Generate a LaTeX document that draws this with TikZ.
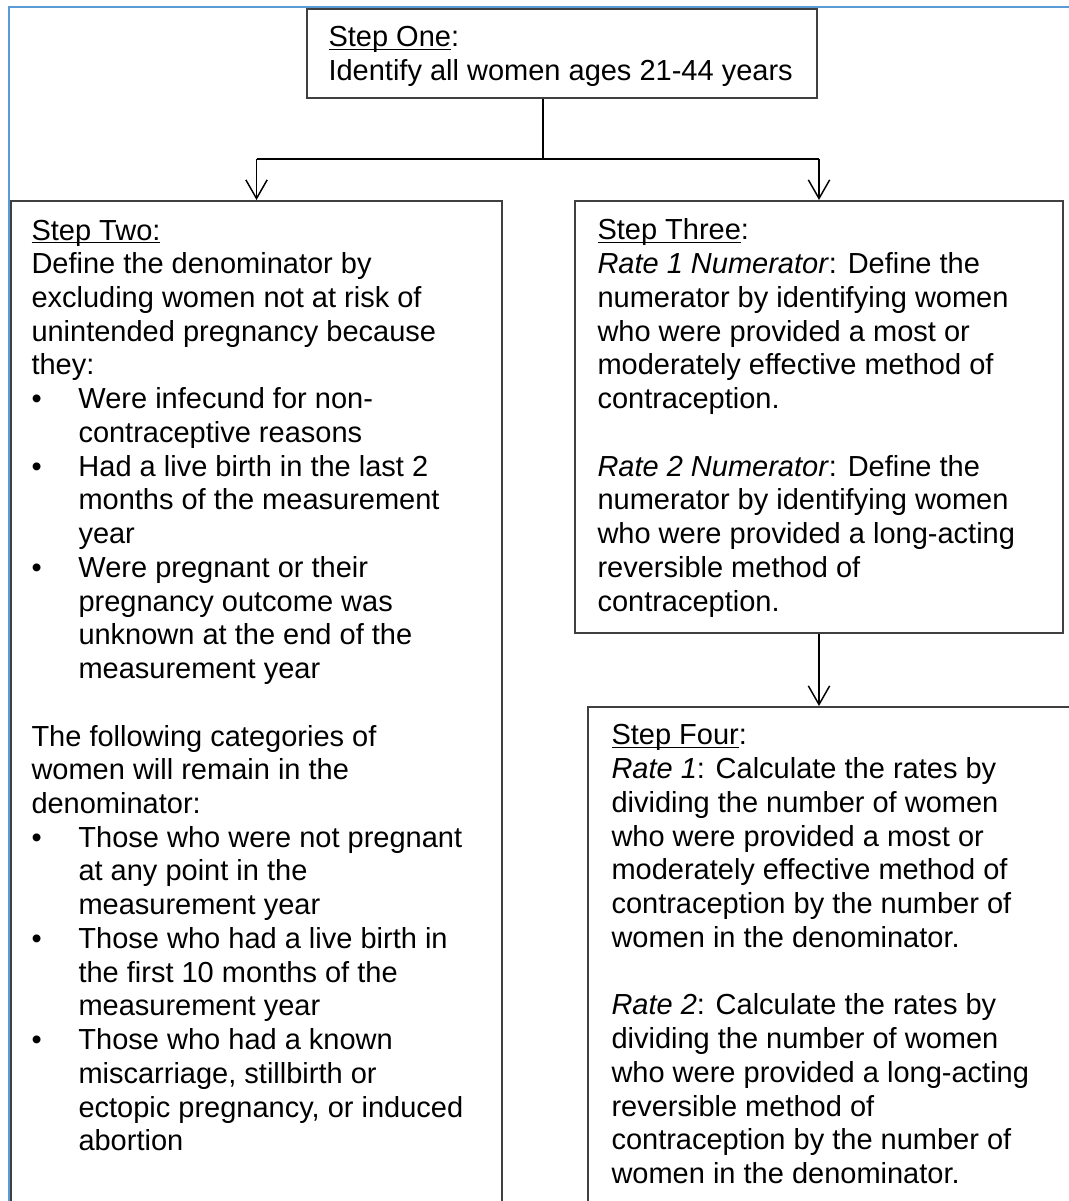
\documentclass[tikz,border=0pt]{standalone}
\usepackage{fontspec}
\setmainfont{Liberation Sans}
\usetikzlibrary{arrows.meta,fit}
\tikzset{every picture/.style={line width=0.75pt}}
\tikzset{
stepbox/.style={draw={rgb, 255:red, 64; green, 64; blue, 64}, line width=1.5pt, inner sep=0pt},
steptext/.style={anchor=base west, inner sep=0pt, align=left, font=\fontsize{21.75}{25.3}\selectfont},
flow/.style={line width=1.1pt},
flowarrow/.style={flow, -{Straight Barb[length=14pt,width=16pt]}}
}
\newcommand{\bul}{\makebox[35.25pt][l]{\textbullet}}
\newcommand{\ind}{\hspace*{35.25pt}}
\newsavebox{\stepulbox}
\newcommand{\stepul}[1]{\sbox{\stepulbox}{#1}\rlap{\rule[-2.4pt]{\wd\stepulbox}{1.1pt}}\usebox{\stepulbox}}

\begin{document}
\begin{tikzpicture}[x=0.75pt,y=0.75pt,yscale=-1,xscale=1]
\useasboundingbox (0,0) rectangle (1069,1201);
\clip (0,0) rectangle (1069,1201);

%Straight Lines: frame
\draw [color={rgb, 255:red, 91; green, 155; blue, 213 }, line width=1.2pt] (9,1230) -- (9,7) -- (1090,7) ;

%Shape: Rectangle
\node [stepbox, fit={(307,9) (817,98)}] (s1) {};
%Shape: Rectangle
\node [stepbox, fit={(11,201) (502,1240)}] (s2) {};
%Shape: Rectangle
\node [stepbox, fit={(575,201) (1063,633)}] (s3) {};
%Shape: Rectangle
\node [stepbox, fit={(588,707) (1090,1240)}] (s4) {};

% Text Node (anchored at the baseline of its last line)
\node [steptext] (s1t) at (328,80.7) {\stepul{Step One}:\\
Identify all women ages 21-44 years};
% Text Node
\node [steptext] (s2t) at (31,1150.8) {\stepul{Step Two:}\\
Define the denominator by\\
excluding women not at risk of\\
unintended pregnancy because\\
they:\\
\bul Were infecund for non-\\
\ind contraceptive reasons\\
\bul Had a live birth in the last 2\\
\ind months of the measurement\\
\ind year\\
\bul Were pregnant or their\\
\ind pregnancy outcome was\\
\ind unknown at the end of the\\
\ind measurement year\\[25.3pt]
The following categories of\\
women will remain in the\\
denominator:\\
\bul Those who were not pregnant\\
\ind at any point in the\\
\ind measurement year\\
\bul Those who had a live birth in\\
\ind the first 10 months of the\\
\ind measurement year\\
\bul Those who had a known\\
\ind miscarriage, stillbirth or\\
\ind ectopic pregnancy, or induced\\
\ind abortion};
% Text Node
\node [steptext] (s3t) at (597,611) {\stepul{Step Three}:\\
\textit{Rate 1 Numerator}: Define the\\
numerator by identifying women\\
who were provided a most or\\
moderately effective method of\\
contraception.\\[25.3pt]
\textit{Rate 2 Numerator}: Define the\\
numerator by identifying women\\
who were provided a long-acting\\
reversible method of\\
contraception.};
% Text Node
\node [steptext] (s4t) at (611,1183.5) {\stepul{Step Four}:\\
\textit{Rate 1}: Calculate the rates by\\
dividing the number of women\\
who were provided a most or\\
moderately effective method of\\
contraception by the number of\\
women in the denominator.\\[25.3pt]
\textit{Rate 2}: Calculate the rates by\\
dividing the number of women\\
who were provided a long-acting\\
reversible method of\\
contraception by the number of\\
women in the denominator.};

%Straight Lines
\coordinate (split) at (543,159);
\draw [flow] (s1.south -| split) -- (split) ;
\draw [flow] (split -| s2.north) -- (split -| s3.north) ;
\draw [flowarrow] (split -| s2.north) -- (s2.north) ;
\draw [flowarrow] (split -| s3.north) -- (s3.north) ;
\draw [flowarrow] (s3.south) -- (s3.south |- s4.north) ;

\end{tikzpicture}
\end{document}
